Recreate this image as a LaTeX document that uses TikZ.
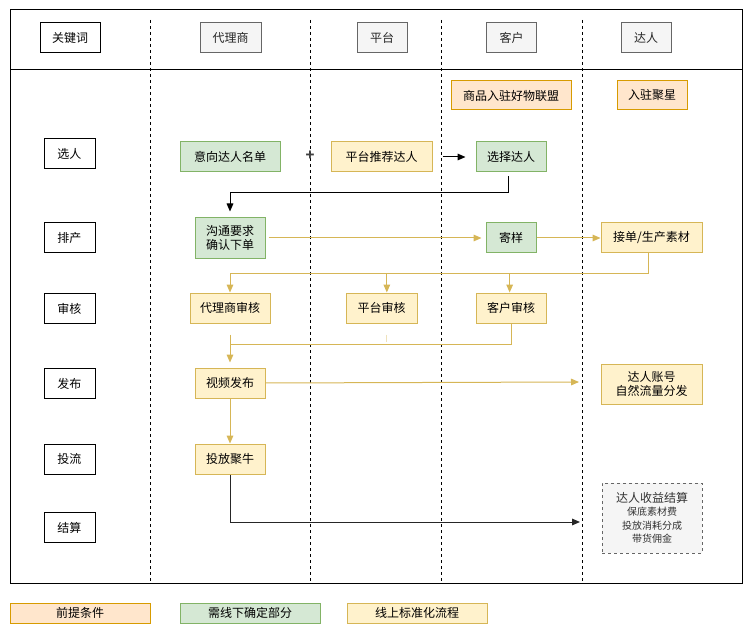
\documentclass[tikz,border=0pt]{standalone}
\usepackage{fontspec}
\setmainfont{Noto Sans CJK SC}
\usetikzlibrary{arrows.meta}

\definecolor{orangefill}{HTML}{FFE6CC}
\definecolor{orangeline}{HTML}{D79B00}
\definecolor{greenfill}{HTML}{D5E8D4}
\definecolor{greenline}{HTML}{82B366}
\definecolor{yellowfill}{HTML}{FFF2CC}
\definecolor{yellowline}{HTML}{D6B656}
\definecolor{grayfill}{HTML}{F5F5F5}
\definecolor{grayline}{HTML}{666666}

\begin{document}
\begin{tikzpicture}[x=0.75pt, y=-0.75pt, font=\fontsize{9}{11}\selectfont,
	box/.style={draw, inner sep=0pt, minimum height=22.5pt, line width=0.75pt, align=center},
	keybox/.style={box, fill=white, minimum width=38.25pt},
	headbox/.style={box, draw=grayline, fill=grayfill, text=black!85},
	prebox/.style={box, draw=orangeline, fill=orangefill},
	offbox/.style={box, draw=greenline, fill=greenfill},
	onbox/.style={box, draw=yellowline, fill=yellowfill},
	yline/.style={draw=yellowline, line width=0.75pt},
	yarrow/.style={yline, -{Triangle[length=6pt,width=5pt]}},
	karrow/.style={draw=black, line width=0.75pt, -{Triangle[length=6pt,width=5pt]}},
	lane/.style={dash pattern=on 2.25pt off 2.25pt, line width=0.6pt}]

	\useasboundingbox (0,0) rectangle (751,635);

	% frame and lanes
	\draw[line width=0.75pt] (10,10) rectangle (742,583);
	\draw[line width=0.75pt] (10,70) -- (742,70);
	\foreach \x in {150,310,441,582}
	{
		\draw[lane] (\x,20) -- (\x,583);
	}

	% header row
	\node[keybox, minimum width=45pt] (h_key) at (70,38) {关键词};
	\node[headbox, minimum width=45.75pt] (h_agent) at (230.5,38) {代理商};
	\node[headbox, minimum width=37.5pt] (h_plat) at (382,38) {平台};
	\node[headbox, minimum width=37pt] (h_client) at (511.5,38) {客户};
	\node[headbox, minimum width=37.5pt] (h_kol) at (646,38) {达人};

	% preconditions
	\node[prebox, minimum width=90pt, minimum height=21.75pt] (join) at (511,95.5) {商品入驻好物联盟};
	\node[prebox, minimum width=52.5pt, minimum height=21.75pt] (settle) at (652,95.5) {入驻聚星};

	% keywords
	\node[keybox] (k_pick) at (69.5,154) {选人};
	\node[keybox] (k_plan) at (69.5,237.5) {排产};
	\node[keybox] (k_check) at (69.5,308.5) {审核};
	\node[keybox] (k_pub) at (69.5,383.5) {发布};
	\node[keybox] (k_flow) at (69.5,459) {投流};
	\node[keybox] (k_pay) at (69.5,527.5) {结算};

	% pick
	\node[offbox, minimum width=75pt] (wish) at (230,157) {意向达人名单};
	\node[text=black!75, font=\fontsize{11}{11}\selectfont\bfseries] (plus) at (310,156) {+};
	\node[onbox, minimum width=75.75pt] (recom) at (381.5,157) {平台推荐达人};
	\node[offbox, minimum width=52.5pt] (choose) at (511,157) {选择达人};

	% plan
	\node[offbox, minimum width=52.5pt, minimum height=30pt] (talk) at (230,238) {沟通要求\\确认下单};
	\node[offbox, minimum width=37.5pt] (sample) at (511,238) {寄样};
	\node[onbox, minimum width=75.75pt] (make) at (651.5,238) {接单/生产素材};

	% check
	\node[onbox, minimum width=60pt] (c_agent) at (230,308) {代理商审核};
	\node[onbox, minimum width=53.25pt] (c_plat) at (381.5,308) {平台审核};
	\node[onbox, minimum width=52.5pt] (c_client) at (511,308) {客户审核};

	% publish and flow
	\node[onbox, minimum width=52.5pt] (video) at (230,383) {视频发布};
	\node[onbox, minimum width=75.75pt, minimum height=30pt] (account) at (651.5,384) {达人账号\\自然流量分发};
	\node[onbox, minimum width=52.5pt] (boost) at (230,459) {投放聚牛};

	% pay
	\node[box, draw=grayline, dashed, dash pattern=on 2.25pt off 2.25pt, fill=grayfill, text=black!80,
		minimum width=75pt, minimum height=52.5pt] (income) at (652,518)
		{达人收益结算\\[-1pt]{\fontsize{7.5}{11.25}\selectfont 保底素材费}\\[-1pt]{\fontsize{7.5}{11.25}\selectfont 投放消耗分成}\\[-1pt]{\fontsize{7.5}{11.25}\selectfont 带货佣金}};

	% legend
	\node[prebox, minimum width=105pt, minimum height=15pt] (l_pre) at (80,613) {前提条件};
	\node[offbox, minimum width=105pt, minimum height=15pt] (l_off) at (250,613) {需线下确定部分};
	\node[onbox, minimum width=105pt, minimum height=15pt] (l_on) at (417,613) {线上标准化流程};

	% free ends
	\coordinate (pub_end) at (579,382);
	\coordinate (pay_end) at (580,522);

	% draw edges
	\draw[karrow, shorten <=7.5pt, shorten >=7.5pt] (recom) -- (choose);
	\draw[karrow, shorten <=3pt, shorten >=4.5pt] ([xshift=-2pt]choose.south) -- ++(0,20) -| (talk.north);
	\draw[yarrow, shorten <=2.25pt, shorten >=3pt] (talk) -- (sample);
	\draw[yarrow] (sample) -- (make);
	\draw[yarrow] ([xshift=-2.5pt]make.south) -- ++(0,20) -| (c_agent.north);
	\draw[yarrow] ([xshift=-2.5pt]make.south) -- ++(0,20) -| ([xshift=4pt]c_plat.north);
	\draw[yarrow] ([xshift=-2.5pt]make.south) -- ++(0,20) -| ([xshift=-1pt]c_client.north);
	\draw[yline] (c_agent.south) ++(0,11) -- ++(0,10);
	\draw[yline, opacity=0.4] ([xshift=4pt]c_plat.south) ++(0,11) -- ++(0,7);
	\draw[yarrow, shorten >=3.75pt] (c_client.south) -- ++(0,21) -| (video.north);
	\draw[yarrow] (video.east) -- (pub_end);
	\draw[yarrow] (video) -- (boost);
	\draw[karrow, draw=black!85] (boost.south) |- (pay_end);

\end{tikzpicture}
\end{document}
